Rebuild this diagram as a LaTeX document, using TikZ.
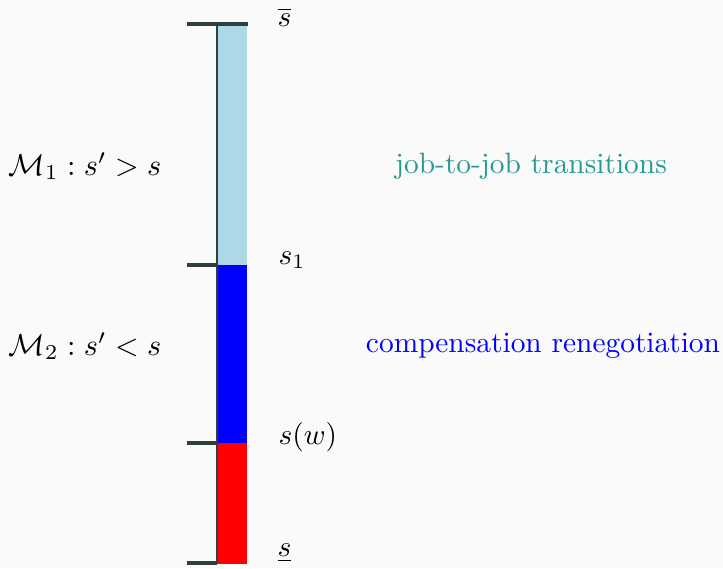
\documentclass[tikz,border=0pt]{standalone}
\usepackage{amsmath}
\begin{document}
\begin{tikzpicture}[x=0.34pt,y=-0.34pt,
  edge/.style={draw=edgec,line width=1pt},
  tick/.style={draw=edgec,line width=1.2pt},
  lab/.style={inner sep=0pt,anchor=west},
  txt/.style={inner sep=0pt}]
\definecolor{edgec}{RGB}{47,62,62}
\definecolor{bgc}{RGB}{250,250,250}
\definecolor{tealc}{RGB}{38,154,150}
\definecolor{lblue}{RGB}{173,216,230}
\fill[bgc] (0,0) rectangle (723,568);
\useasboundingbox (0,0) rectangle (723,568);
% bar segments
\fill[lblue] (217,24) rectangle (247,265);
\fill[blue] (217,265) rectangle (247,443);
\fill[red] (217,443) rectangle (247,564);
\coordinate (t0) at (217,24);
\coordinate (t1) at (217,265);
\coordinate (t2) at (217,443);
\coordinate (t3) at (217,563);
\coordinate (tr) at (248,24);
\draw[edge] (t0) -- (217,564);
\draw[tick] (187,24) -- (tr);
\draw[tick] (187,265) -- (t1);
\draw[tick] (187,443) -- (t2);
\draw[draw=edgec,line width=1.6pt] (187,563) -- (t3);
% labels
\node[lab] (sbar) at (277,17) {$\overline{s}$};
\node[lab] (s1) at (278,260) {$s_1$};
\node[lab] (sw) at (278,437) {$s(w)$};
\node[lab] (sund) at (277,553) {$\underline{s}$};
\node[txt,scale=1.03] (m1) at (85,166) {$\mathcal{M}_1 : s' > s$};
\node[txt,scale=1.03] (m2) at (85,346) {$\mathcal{M}_2 : s' < s$};
\node[txt,text=tealc] (jj) at (531,166) {job-to-job transitions};
\node[txt,text=blue] (cr) at (543,346) {compensation renegotiation};
\end{tikzpicture}
\end{document}
